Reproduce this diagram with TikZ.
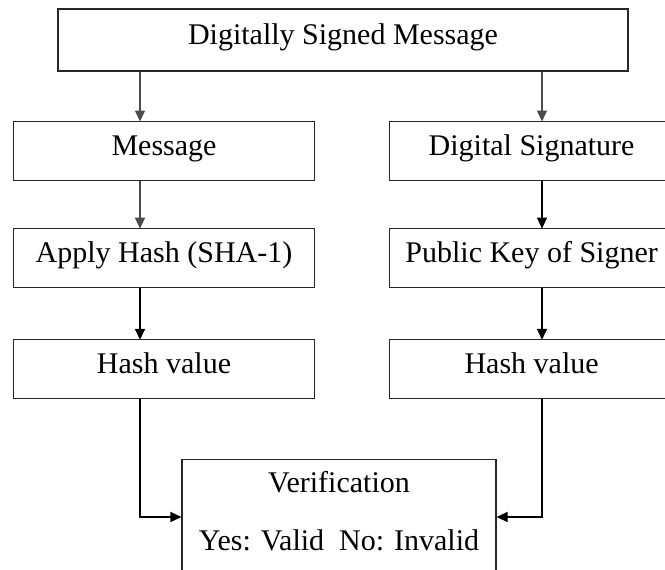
\documentclass[tikz,border=0pt]{standalone}
\usepackage{fontspec}
\setmainfont{Liberation Serif}
\usetikzlibrary{positioning,calc,matrix,arrows.meta}

\tikzset{
  blk/.style={draw=black!85, line width=1.1pt, rectangle, inner sep=0pt,
    minimum height=59pt, text height=20pt, text depth=12pt,
    font=\fontsize{30}{36}\selectfont},
  lblk/.style={blk, minimum width=301pt},
  rblk/.style={blk, minimum width=284pt},
  txt/.style={anchor=base, inner sep=0pt, font=\fontsize{30}{36}\selectfont},
  arr/.style={-{Triangle[length=11pt,width=10pt]}, line width=1.3pt, black!70},
  arrb/.style={arr, line width=1.8pt, black},
}

\begin{document}
\begin{tikzpicture}[x=1pt,y=-1pt]
\useasboundingbox (0,0) rectangle (665,570);

\node [blk, minimum width=570pt, minimum height=62pt] (dsm) at (343,40) {Digitally Signed Message};

\matrix (grid) [anchor=north west, inner sep=0pt, outer sep=0pt, column sep=74pt, ampersand replacement=\&] at (13,121) {
  \node [lblk] (msg) {Message};            \& \node [rblk] (dsig) {Digital Signature};    \\[47pt]
  \node [lblk] (hash) {Apply Hash (SHA-1)}; \& \node [rblk] (pkey) {Public Key of Signer}; \\[51pt]
  \node [lblk] (hvL) {Hash value};          \& \node [rblk] (hvR) {Hash value};           \\
};

% verification box, open at the bottom edge
\node [draw=black!85, line width=1.1pt, minimum width=314pt, minimum height=150pt, anchor=north] (verify) at (339,459) {};
\node [txt] (vtitle) at (339,492) {Verification};
\node [txt] (vres) at (339,550) {Yes: Valid~~No: Invalid};

\coordinate (colL) at (140,0);
\coordinate (colR) at (542,0);
\coordinate (joinY) at (0,517);

\draw [arr] (dsm.south -| colL) -- (msg.north -| colL);
\draw [arr] (dsm.south -| colR) -- (dsig.north -| colR);
\draw [arr] (msg.south -| colL) -- (hash.north -| colL);
\draw [arr,black,line width=1.1pt] (dsig.south -| colR) -- (pkey.north -| colR);
\draw [arrb] (hash.south -| colL) -- (hvL.north -| colL);
\draw [arrb] (pkey.south -| colR) -- (hvR.north -| colR);
\draw [arr,black,line width=1.1pt] (hvL.south -| colL) |- (verify.west |- joinY);
\draw [arr,black,line width=1.1pt] (hvR.south -| colR) |- (verify.east |- joinY);
\end{tikzpicture}
\end{document}
